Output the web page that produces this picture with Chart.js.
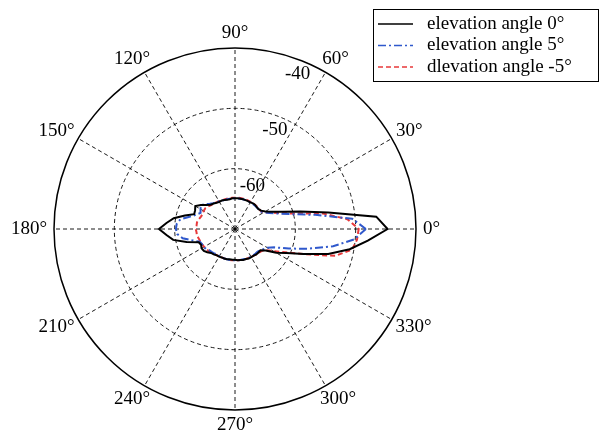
<!DOCTYPE html>
<html>
<head>
<meta charset="utf-8">
<script src="https://cdn.jsdelivr.net/npm/chart.js@4.4.0/dist/chart.umd.min.js"></script>
<style>
  html, body { margin: 0; padding: 0; background: #fff; }
  #wrap { width: 600px; height: 431px; }
</style>
</head>
<body>
<div id="wrap"><canvas id="polarChart" width="600" height="431"></canvas></div>
<script>
// azimuth (deg), counter-clockwise from the 0 deg axis
var angles = [0, 5, 10, 15, 20, 25, 30, 35, 40, 45, 50, 55, 60, 65, 70, 75, 80, 85,
              90, 95, 100, 105, 110, 115, 120, 125, 130, 135, 140, 145, 150, 155, 160, 165, 170, 175,
              180, 185, 190, 195, 200, 205, 210, 215, 220, 225, 230, 235, 240, 245, 250, 255, 260, 265,
              270, 275, 280, 285, 290, 295, 300, 305, 310, 315, 320, 325, 330, 335, 340, 345, 350, 355];

// pattern in dB, one value per angle
var elev0 = [-44.7, -46.5, -54.3, -58.8, -61.6, -63.2, -64.2, -64.7, -64.9, -64.9, -64.8, -64.8, -64.9, -64.9, -64.9, -64.9, -64.9, -64.9,
             -64.9, -64.9, -65.0, -65.0, -64.9, -64.8, -64.8, -64.7, -64.5, -64.3, -63.8, -63.1, -62.4, -62.7, -62.8, -61.4, -59.7, -58.6,
             -57.4, -58.6, -59.6, -61.7, -63.6, -63.8, -63.6, -63.7, -64.0, -64.4, -64.5, -64.7, -64.7, -64.8, -64.8, -64.8, -64.9, -64.9,
             -64.9, -64.8, -64.8, -64.7, -64.7, -64.6, -64.6, -64.6, -64.5, -64.5, -64.5, -63.8, -62.1, -60.6, -57.9, -54.0, -50.7, -47.9];
var elev5 = [-48.3, -50.5, -56.5, -60.5, -62.5, -63.7, -64.5, -64.9, -64.9, -64.9, -64.9, -64.9, -64.9, -64.9, -64.9, -64.9, -64.9, -64.9,
             -64.9, -64.9, -64.9, -64.9, -64.9, -64.8, -64.7, -64.6, -64.4, -64.1, -63.6, -63.1, -63.4, -63.7, -63.1, -62.2, -60.8, -60.3,
             -60.2, -60.4, -61.2, -62.7, -63.8, -64.0, -64.0, -64.2, -64.5, -64.6, -64.7, -64.8, -64.8, -64.8, -64.8, -64.8, -64.8, -64.8,
             -64.8, -64.8, -64.8, -64.8, -64.7, -64.7, -64.7, -64.7, -64.7, -64.7, -64.5, -64.2, -63.8, -62.8, -60.5, -57.4, -53.5, -50.2];
var elevM5 = [-49.5, -51.3, -55.2, -60.1, -62.3, -63.6, -64.5, -64.8, -64.8, -64.8, -64.8, -64.8, -64.8, -64.8, -64.8, -64.8, -64.8, -64.8,
              -64.8, -64.8, -64.8, -64.8, -64.8, -64.8, -64.7, -64.6, -64.5, -64.4, -64.2, -64.0, -64.0, -64.1, -64.0, -63.8, -63.6, -63.6,
              -63.5, -63.6, -63.6, -63.8, -63.9, -64.0, -64.1, -64.2, -64.3, -64.5, -64.6, -64.7, -64.7, -64.8, -64.8, -64.8, -64.8, -64.8,
              -64.8, -64.8, -64.8, -64.8, -64.7, -64.7, -64.7, -64.6, -64.5, -64.4, -64.3, -63.9, -62.7, -60.9, -57.8, -52.8, -50.3, -49.7];

var radialTicks = [-60, -50, -40];
var angleTicks = [0, 30, 60, 90, 120, 150, 180, 210, 240, 270, 300, 330];
var seriesNames = ['elevation angle 0°', 'elevation angle 5°', 'dlevation angle -5°'];

var FONT = '19px "Liberation Serif", "Times New Roman", serif';
var N = angles.length;

// radar runs clockwise from the start angle, the plot runs counter-clockwise
function radarOrder(arr) {
    return arr.map(function(v, i) { return arr[(N - i) % N]; });
}
function indexForAngle(deg) {
    return ((360 - deg) % 360) / (360 / N);
}

var polarText = {
    id: 'polarText',
    afterDraw: function(chart) {
        var ctx = chart.ctx;
        var r = chart.scales.r;
        var R = r.drawingArea;
        ctx.save();
        ctx.font = FONT;
        ctx.fillStyle = '#000';

        // angle labels round the outside
        angleTicks.forEach(function(a) {
            var txt = a + '°';
            var p = r.getPointPosition(indexForAngle(a), R + 7);
            var w = ctx.measureText(txt).width;
            var h = 16;
            var rad = a * Math.PI / 180;
            var cx = p.x + Math.cos(rad) * w / 2;
            var cy = p.y - Math.sin(rad) * h / 2;
            ctx.textAlign = 'center';
            ctx.textBaseline = 'middle';
            ctx.fillText(txt, cx, cy);
        });

        // dB labels along 68 deg
        radialTicks.forEach(function(v) {
            var d = r.getDistanceFromCenterForValue(v) - 14;
            var p = r.getPointPosition(indexForAngle(68), d);
            ctx.textAlign = 'center';
            ctx.textBaseline = 'middle';
            ctx.fillText(String(v), p.x, p.y);
        });

        // legend box
        var bx = 373, by = 9, bw = 225, bh = 72;
        ctx.fillStyle = '#fff';
        ctx.fillRect(bx, by, bw, bh);
        ctx.strokeStyle = '#000';
        ctx.lineWidth = 1;
        ctx.setLineDash([]);
        ctx.strokeRect(bx + 0.5, by + 0.5, bw, bh);
        chart.data.datasets.forEach(function(ds, i) {
            var y = by + 15 + i * 21.5;
            ctx.beginPath();
            ctx.strokeStyle = ds.borderColor;
            ctx.lineWidth = 1.5;
            ctx.setLineDash(ds.borderDash || []);
            ctx.moveTo(bx + 5, y);
            ctx.lineTo(bx + 40, y);
            ctx.stroke();
            ctx.setLineDash([]);
            ctx.fillStyle = '#000';
            ctx.textAlign = 'left';
            ctx.textBaseline = 'middle';
            ctx.fillText(ds.label, bx + 54, y);
        });
        ctx.restore();
    }
};

var chart = new Chart(document.getElementById('polarChart').getContext('2d'), {
    type: 'radar',
    data: {
        labels: radarOrder(angles).map(function(a) { return a + '°'; }),
        datasets: [{
            label: seriesNames[0],
            data: radarOrder(elev0),
            borderColor: '#000000',
            borderWidth: 2
        }, {
            label: seriesNames[1],
            data: radarOrder(elev5),
            borderColor: '#2f58cc',
            borderWidth: 2,
            borderDash: [8, 3, 2, 3]
        }, {
            label: seriesNames[2],
            data: radarOrder(elevM5),
            borderColor: '#e8383a',
            borderWidth: 2,
            borderDash: [5, 3]
        }]
    },
    options: {
        responsive: false,
        animation: false,
        layout: { padding: { left: 54, right: 184, top: 48, bottom: 21 } },
        elements: {
            point: { radius: 0, hoverRadius: 0 },
            line: { fill: false, tension: 0 }
        },
        plugins: {
            legend: { display: false },
            tooltip: { enabled: false }
        },
        scales: {
            r: {
                min: -70,
                max: -40,
                startAngle: 90,
                ticks: { display: false, stepSize: 10 },
                pointLabels: { display: false },
                grid: {
                    circular: true,
                    color: '#000',
                    lineWidth: function(c) { return c.index === 3 ? 1.5 : 0.9; }
                },
                border: {
                    dash: function(c) { return c.index === 3 ? [] : [4, 3]; }
                },
                angleLines: {
                    color: '#000',
                    lineWidth: function(c) { return c.index % 6 === 0 ? 0.9 : 0; },
                    borderDash: [4, 3]
                }
            }
        }
    },
    plugins: [polarText]
});
</script>
</body>
</html>
